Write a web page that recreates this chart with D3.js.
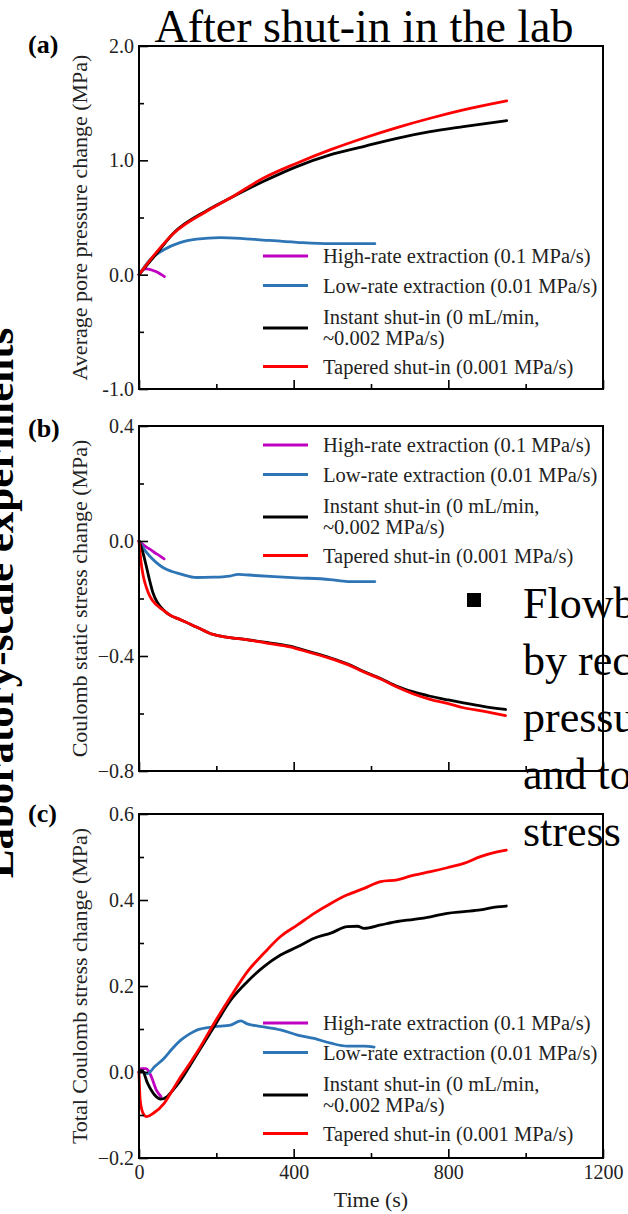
<!DOCTYPE html>
<html>
<head>
<meta charset="utf-8">
<script src="https://cdn.jsdelivr.net/npm/d3@7/dist/d3.min.js"></script>
<style>
  html, body { margin: 0; padding: 0; background: #fff; overflow: hidden; }
  svg { display: block; }
  text { font-family: "Liberation Serif", "Times New Roman", serif; }
</style>
</head>
<body>
<svg id="chart" width="628" height="1214"></svg>
<script>
// ---------------- DATA ----------------
const seriesNames = ["High-rate extraction (0.1 MPa/s)", "Low-rate extraction (0.01 MPa/s)", "Instant shut-in (0 mL/min,|~0.002 MPa/s)", "Tapered shut-in (0.001 MPa/s)"];
const seriesColors = ["#c000c0", "#2e75b6", "#000000", "#ff0000"];

const timeDomain = [0, 1200];
const timeMajorTicks = [0, 400, 800, 1200];
const timeMinorTicks = [200, 600, 1000];
const timeTickLabels = ["0", "400", "800", "1200"];

// Panel (a): Average pore pressure change (MPa)
const poreHigh = [[0,0],[8,0.035],[18,0.05],[30,0.045],[45,0.025],[58,0.0],[66,-0.017]];
const poreLow = [[0,0],[28,0.129],[63,0.216],[106,0.28],[149,0.31],[210,0.324],[262,0.318],[321,0.303],[408,0.283],[494,0.271],[610,0.271]];
const poreInstant = [[0,0],[46,0.187],[89,0.362],[175,0.56],[235,0.668],[321,0.814],[408,0.945],[494,1.047],[580,1.12],[667,1.193],[753,1.251],[839,1.295],[951,1.347]];
const poreTapered = [[0,0],[46,0.2],[89,0.36],[175,0.555],[235,0.668],[321,0.843],[408,0.975],[494,1.091],[580,1.193],[667,1.286],[753,1.368],[839,1.441],[951,1.52]];
const poreTickValues = [-1, 0, 1, 2];
const poreTickLabels = ["-1.0", "0.0", "1.0", "2.0"];
const poreMinorTicks = [-0.5, 0.5, 1.5];

// Panel (b): Coulomb static stress change (MPa)
const staticHigh = [[0,0],[10,-0.012],[20,-0.022],[30,-0.03],[40,-0.04],[52,-0.05],[65,-0.062]];
const staticLow = [[0,0],[14,-0.03],[28,-0.053],[45,-0.075],[63,-0.093],[85,-0.106],[106,-0.114],[149,-0.127],[192,-0.126],[235,-0.122],[256,-0.116],[300,-0.12],[350,-0.124],[408,-0.128],[494,-0.134],[540,-0.141],[610,-0.141]];
const staticInstant = [[0,0],[10,-0.04],[19,-0.088],[28,-0.14],[36,-0.18],[48,-0.215],[62,-0.238],[80,-0.258],[106,-0.273],[150,-0.3],[191,-0.325],[230,-0.335],[278,-0.343],[330,-0.353],[390,-0.366],[440,-0.385],[494,-0.406],[540,-0.428],[580,-0.453],[625,-0.478],[667,-0.505],[710,-0.525],[753,-0.54],[800,-0.553],[839,-0.563],[890,-0.575],[948,-0.586]];
const staticTapered = [[0,0],[5,-0.07],[11,-0.122],[20,-0.165],[28,-0.192],[45,-0.222],[62,-0.24],[80,-0.258],[106,-0.273],[150,-0.3],[191,-0.325],[230,-0.335],[278,-0.343],[330,-0.355],[390,-0.368],[440,-0.387],[494,-0.408],[540,-0.43],[580,-0.455],[625,-0.48],[667,-0.508],[710,-0.532],[753,-0.551],[800,-0.566],[839,-0.58],[890,-0.592],[948,-0.607]];
const staticTickValues = [-0.8, -0.4, 0, 0.4];
const staticTickLabels = ["\u22120.8", "\u22120.4", "0.0", "0.4"];
const staticMinorTicks = [-0.6, -0.2, 0.2];

// Panel (c): Total Coulomb stress change (MPa)
const totalHigh = [[0,0],[6,0.008],[18,0.008],[25,0.002],[32,-0.011],[45,-0.042],[57,-0.057]];
const totalLow = [[0,0],[10,0.0],[22,-0.004],[40,0.012],[65,0.032],[86,0.054],[108,0.074],[130,0.088],[151,0.098],[194,0.105],[237,0.109],[263,0.119],[280,0.112],[323,0.105],[366,0.098],[410,0.086],[453,0.078],[496,0.067],[539,0.06],[582,0.06],[608,0.058]];
const totalInstant = [[0,0],[8,0.004],[22,-0.026],[40,-0.053],[56,-0.063],[73,-0.057],[90,-0.04],[108,-0.019],[130,0.012],[151,0.043],[194,0.105],[237,0.167],[280,0.21],[323,0.245],[366,0.272],[410,0.291],[453,0.311],[496,0.323],[539,0.338],[565,0.339],[582,0.334],[625,0.342],[668,0.35],[711,0.355],[754,0.361],[797,0.369],[840,0.373],[883,0.377],[926,0.384],[950,0.386]];
const totalTapered = [[0,0],[3,-0.065],[10,-0.095],[20,-0.104],[37,-0.096],[65,-0.073],[86,-0.043],[108,-0.011],[130,0.018],[151,0.047],[194,0.113],[237,0.175],[280,0.233],[323,0.276],[366,0.315],[410,0.342],[453,0.369],[496,0.392],[539,0.412],[582,0.427],[625,0.443],[668,0.447],[711,0.458],[754,0.466],[797,0.475],[840,0.485],[883,0.501],[926,0.512],[950,0.516]];
const totalTickValues = [-0.2, 0, 0.2, 0.4, 0.6];
const totalTickLabels = ["\u22120.2", "0.0", "0.2", "0.4", "0.6"];
const totalMinorTicks = [-0.1, 0.1, 0.3, 0.5];

const titleText = "After shut-in in the lab";
const sideText = "Laboratory-scale experiments";
const bulletLines = ["Flowb", "by rec", "pressu", "and to", "stress"];

// ---------------- DRAW ----------------
const svg = d3.select("#chart");
const FONT = "'Liberation Serif', 'Times New Roman', serif";

// Right-hand bullet text (behind the frames)
const bx = 523, by0 = 618, bdy = 57;
svg.append("rect").attr("x", 467).attr("y", 593).attr("width", 14).attr("height", 14).attr("fill", "#000");
svg.selectAll("text.bullet").data(bulletLines).enter().append("text")
  .attr("class", "bullet")
  .attr("x", bx).attr("y", (d, i) => by0 + i * bdy)
  .attr("font-size", 44).attr("fill", "#000").text(d => d);

// Rotated side label
svg.append("text")
  .attr("transform", "translate(13,603) rotate(-90)")
  .attr("text-anchor", "middle")
  .attr("font-size", 43).attr("font-weight", "bold")
  .text(sideText);

// Title
svg.append("text").attr("x", 364).attr("y", 42).attr("text-anchor", "middle")
  .attr("font-size", 46).text(titleText);

const panels = [
  { tag: "(a)", tagY: 53, top: 46, bottom: 389, domain: [-1, 2], ticks: poreTickValues, labels: poreTickLabels, minor: poreMinorTicks,
    ylabel: "Average pore pressure change (MPa)", series: [poreHigh, poreLow, poreInstant, poreTapered], legendTop: 256, xlabels: false },
  { tag: "(b)", tagY: 437, top: 426, bottom: 771, domain: [-0.8, 0.4], ticks: staticTickValues, labels: staticTickLabels, minor: staticMinorTicks,
    ylabel: "Coulomb static stress change (MPa)", series: [staticHigh, staticLow, staticInstant, staticTapered], legendTop: 445, xlabels: false },
  { tag: "(c)", tagY: 822, top: 814, bottom: 1158, domain: [-0.2, 0.6], ticks: totalTickValues, labels: totalTickLabels, minor: totalMinorTicks,
    ylabel: "Total Coulomb stress change (MPa)", series: [totalHigh, totalLow, totalInstant, totalTapered], legendTop: 1023, xlabels: true }
];

const left = 139, right = 603;
const x = d3.scaleLinear().domain(timeDomain).range([left, right]);

panels.forEach(p => {
  const y = d3.scaleLinear().domain(p.domain).range([p.bottom, p.top]);
  const g = svg.append("g");

  // data lines
  const line = d3.line().x(d => x(d[0])).y(d => y(d[1])).curve(d3.curveMonotoneX);
  p.series.forEach((s, i) => {
    g.append("path").datum(s).attr("d", line)
      .attr("fill", "none").attr("stroke", seriesColors[i])
      .attr("stroke-width", 2.8).attr("stroke-linejoin", "round").attr("stroke-linecap", "round");
  });

  // legend
  const lg = g.append("g");
  const offs = [0, 29.5, 72, 110.5];
  seriesNames.forEach((name, i) => {
    const ly = p.legendTop + offs[i];
    lg.append("line").attr("x1", 263).attr("x2", 308).attr("y1", ly).attr("y2", ly)
      .attr("stroke", seriesColors[i]).attr("stroke-width", 3);
    const parts = name.split("|");
    if (parts.length === 1) {
      lg.append("text").attr("x", 323).attr("y", ly + 7).attr("font-size", 20.5).attr("fill", "#222").text(parts[0]);
    } else {
      lg.append("text").attr("x", 323).attr("y", ly - 4).attr("font-size", 20.5).attr("fill", "#222").text(parts[0]);
      lg.append("text").attr("x", 323).attr("y", ly + 17).attr("font-size", 20.5).attr("fill", "#222").text(parts[1]);
    }
  });

  // y axis major
  const yAxis = d3.axisLeft(y).tickValues(p.ticks).tickSize(-9).tickPadding(5)
    .tickFormat((d, i) => p.labels[i]);
  const ya = g.append("g").attr("transform", `translate(${left},0)`).call(yAxis);
  ya.select(".domain").remove();
  ya.selectAll("line").attr("stroke", "#000").attr("stroke-width", 1.6);
  ya.selectAll("text").attr("font-size", 20).attr("fill", "#222").attr("font-family", FONT);
  // y axis minor
  const ym = g.append("g").attr("transform", `translate(${left},0)`)
    .call(d3.axisLeft(y).tickValues(p.minor).tickSize(-5).tickFormat(""));
  ym.select(".domain").remove();
  ym.selectAll("line").attr("stroke", "#000").attr("stroke-width", 1.6);

  // x axis major
  const xAxis = d3.axisBottom(x).tickValues(timeMajorTicks).tickSize(-9).tickPadding(7)
    .tickFormat((d, i) => p.xlabels ? timeTickLabels[i] : "");
  const xa = g.append("g").attr("transform", `translate(0,${p.bottom})`).call(xAxis);
  xa.select(".domain").remove();
  xa.selectAll("line").attr("stroke", "#000").attr("stroke-width", 1.6);
  xa.selectAll("text").attr("font-size", 20).attr("fill", "#222").attr("font-family", FONT);
  const xm = g.append("g").attr("transform", `translate(0,${p.bottom})`)
    .call(d3.axisBottom(x).tickValues(timeMinorTicks).tickSize(-5).tickFormat(""));
  xm.select(".domain").remove();
  xm.selectAll("line").attr("stroke", "#000").attr("stroke-width", 1.6);

  // frame
  g.append("rect").attr("x", left).attr("y", p.top).attr("width", right - left).attr("height", p.bottom - p.top)
    .attr("fill", "none").attr("stroke", "#000").attr("stroke-width", 2);

  // y label
  g.append("text")
    .attr("transform", `translate(87,${(p.top + p.bottom) / 2}) rotate(-90)`)
    .attr("text-anchor", "middle").attr("font-size", 22).attr("fill", "#222")
    .text(p.ylabel);

  // panel tag
  g.append("text").attr("x", 28).attr("y", p.tagY).attr("font-size", 26).attr("font-weight", "bold")
    .text(p.tag);

  if (p.xlabels) {
    g.append("text").attr("x", (left + right) / 2).attr("y", 1207).attr("text-anchor", "middle")
      .attr("font-size", 22).attr("fill", "#222").text("Time (s)");
  }
});
</script>
</body>
</html>
